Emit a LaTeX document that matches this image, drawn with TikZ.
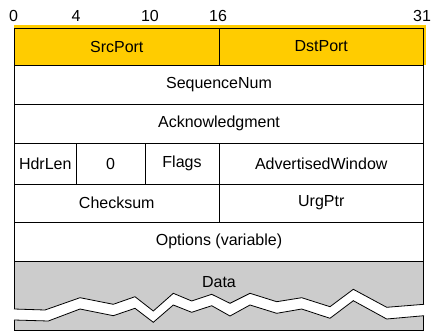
\documentclass[tikz,border=0pt]{standalone}
\usepackage{fontspec}
\setmainfont{Liberation Sans}
\usetikzlibrary{positioning}
\definecolor{hdryellow}{HTML}{FFCC00}
\definecolor{datagray}{HTML}{CCCCCC}
\tikzset{
	header/.style={x=1pt,y=-1pt,font=\fontsize{16}{19}\selectfont,line width=0.9pt},
	field/.style={rectangle,draw,inner sep=0pt,outer sep=0pt,minimum height=39pt},
	full/.style={field,minimum width=409pt},
	half/.style={field,minimum width=204.5pt},
	bit/.style={inner sep=0pt},
	tear/.style={line width=0.8pt,line join=miter}
}

\begin{document}
\begin{tikzpicture}[header]
	\useasboundingbox (0,0) rectangle (431,332);
	
	\node[bit] (b0) at (13.5,15.5) {0};
	\node[bit] (b4) at (76,15.5) {4};
	\node[bit] (b10) at (150,15.5) {10};
	\node[bit] (b16) at (218,15.5) {16};
	\node[bit] (b31) at (422,15.5) {31};
	
	\fill[hdryellow] (14,25) rectangle (426,65);
	\node[half,fill=hdryellow,minimum height=37pt,anchor=north west] (src) at (14.5,28) {SrcPort};
	\node[half,fill=hdryellow,minimum height=37pt,right=0pt of src] (dst) {DstPort};
	\node[full,anchor=north west] (seq) at (src.south west) {SequenceNum};
	\node[full,anchor=north west] (ack) at (seq.south west) {Acknowledgment};
	\node[field,minimum width=61.5pt,minimum height=41pt,anchor=north west] (hdrlen) at (ack.south west) {HdrLen};
	\node[field,minimum width=69pt,minimum height=41pt,right=0pt of hdrlen] (zero) {0};
	\node[field,minimum width=74pt,minimum height=41pt,right=0pt of zero] (flags) {Flags};
	\node[half,minimum height=41pt,right=0pt of flags] (advwin) {AdvertisedWindow};
	\node[half,minimum height=38pt,anchor=north west] (cksum) at (hdrlen.south west) {Checksum};
	\node[half,minimum height=38pt,right=0pt of cksum] (urgptr) {UrgPtr};
	\node[full,anchor=north west] (opts) at (cksum.south west) {Options (variable)};
	\node[full,fill=datagray,minimum height=69pt,anchor=north west] (data) at (opts.south west) {};
	\node[bit] (datalbl) [below=15pt of data.north] {Data};
	
	% torn edge of the data
	\fill[white] (13,309) -- (45,310) -- (80,297.7) -- (113.3,304.3) -- (135,296.7) -- (153.3,311) -- (173.3,293.3) -- (191.7,301) -- (211.7,294.3) -- (230,303.3) -- (250,293.3) -- (276.7,301.7) -- (301.7,297.7) -- (330,306.7) -- (353.3,289.3) -- (386.7,307.3) -- (425,304.3)
		-- (425,315.7) -- (386.7,319) -- (353.3,300.7) -- (330,318.3) -- (301.7,309) -- (276.7,313.3) -- (250,305) -- (230,316) -- (211.7,305.7) -- (191.7,312.3) -- (173.3,305) -- (153.3,322.3) -- (135,308.3) -- (113.3,315.7) -- (80,309) -- (48.3,321) -- (13,320) -- cycle;
	\draw[tear] (14,309) -- (45,310) -- (80,297.7) -- (113.3,304.3) -- (135,296.7) -- (153.3,311) -- (173.3,293.3) -- (191.7,301) -- (211.7,294.3) -- (230,303.3) -- (250,293.3) -- (276.7,301.7) -- (301.7,297.7) -- (330,306.7) -- (353.3,289.3) -- (386.7,307.3) -- (424,304.3);
	\draw[tear] (14,320) -- (48.3,321) -- (80,309) -- (113.3,315.7) -- (135,308.3) -- (153.3,322.3) -- (173.3,305) -- (191.7,312.3) -- (211.7,305.7) -- (230,316) -- (250,305) -- (276.7,313.3) -- (301.7,309) -- (330,318.3) -- (353.3,300.7) -- (386.7,319) -- (424,315.7);
\end{tikzpicture}
\end{document}
